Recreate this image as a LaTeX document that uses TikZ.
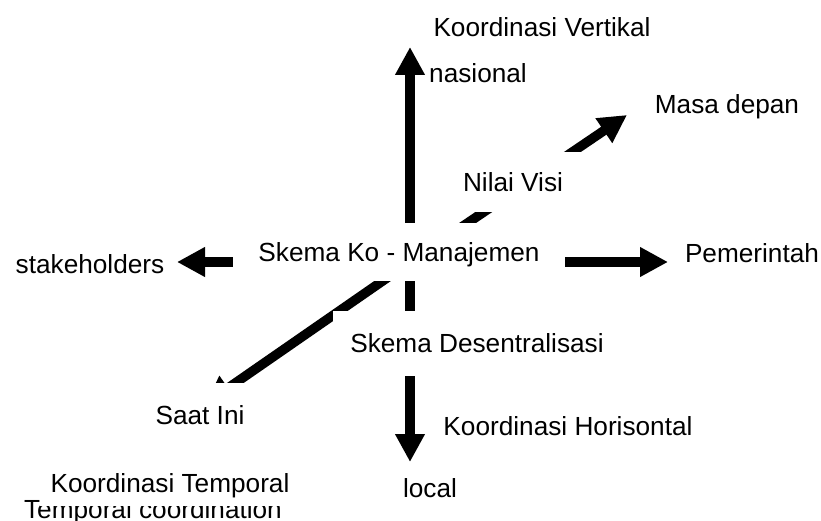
\documentclass[tikz,border=0pt]{standalone}
\usepackage{fontspec}
\setmainfont{Liberation Sans}
\usetikzlibrary{arrows.meta}
\begin{document}
\begin{tikzpicture}[x=1pt,y=-1pt,
  lbl/.style={font=\fontsize{26.2pt}{30pt}\selectfont, text height=18.8pt, text depth=0pt, inner sep=0pt},
  box/.style={lbl, fill=white},
  arr/.style={line width=9.5pt, -{Triangle[length=28pt,width=28pt]}}]
\useasboundingbox (0,0) rectangle (821,521);
\fill[white] (0,0) rectangle (821,521);
% hub and arrow ends
\coordinate (c) at (410,262);
\coordinate (up) at (410,47);
\coordinate (dn) at (410,462);
\coordinate (lf) at (177,262);
\coordinate (rt) at (668,262);
\coordinate (ne) at (627,115);
\coordinate (sw) at (205,404);
% arrows
\draw[arr] (c) -- (up);
\draw[arr] (c) -- (dn);
\draw[arr] (c) -- (lf);
\draw[arr] (c) -- (rt);
\draw[arr] (c) -- (ne);
\draw[arr] (c) -- (sw);
% boxed labels covering the arrows
\node[box, minimum width=332pt, minimum height=58pt] (ko) at (399,252) {Skema Ko - Manajemen};
\node[box, minimum width=140pt, minimum height=60pt] (nv) at (513,182) {Nilai Visi};
\node[box, minimum width=289pt, minimum height=65pt] (sd) at (477,343.5) {Skema Desentralisasi};
\node[box, minimum width=110pt, minimum height=64pt] (si) at (200,415) {Saat Ini};
\node[lbl] (tc) at (153,509) {Temporal coordination};
\node[box, minimum width=260pt, minimum height=46pt] (kt) at (170,483) {Koordinasi Temporal};
% free labels
\node[lbl] (kv) at (542,27) {Koordinasi Vertikal};
\node[lbl] (nas) at (478,73) {nasional};
\node[lbl] (md) at (727,104) {Masa depan};
\node[lbl] (pm) at (752,253.5) {Pemerintah};
\node[lbl] (sh) at (90,264) {stakeholders};
\node[lbl] (kh) at (568,426) {Koordinasi Horisontal};
\node[lbl] (loc) at (430,488) {local};
\end{tikzpicture}
\end{document}
